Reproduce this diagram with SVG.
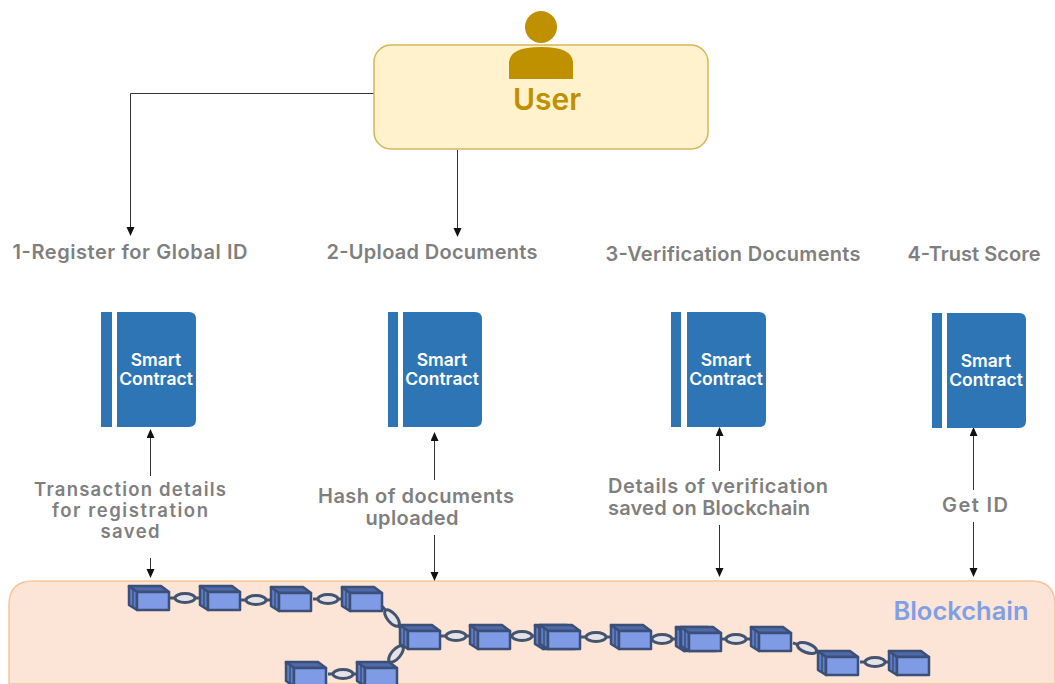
<svg xmlns="http://www.w3.org/2000/svg" width="1055" height="684" viewBox="0 0 1055 684">
<style>
text{font-family:"Inter","Open Sans",sans-serif;font-weight:600;text-anchor:middle}
.g{fill:#7f7f7f;font-size:20px}
.h{fill:#7f7f7f;font-size:20px}
.t{fill:#7f7f7f;font-size:18.500px}
.s{fill:#fff;font-size:17.500px;font-weight:600}
.c{fill:none;stroke:#333;stroke-width:1}
.book{fill:#2e75b6}
.lk{stroke:#44546f;stroke-width:3;fill:none}
.lf{stroke:#44546f;stroke-width:3;fill:#e4e4e8}
.b{stroke:#3b4f78;stroke-width:2.500;stroke-linejoin:round}
</style>
<defs>
<marker id="a" markerWidth="9" markerHeight="9" refX="8" refY="4" orient="auto-start-reverse" markerUnits="userSpaceOnUse"><path d="M0 0L9 4L0 8Z" fill="#111"/></marker>
<g id="blk">
<path class="b" d="M0 0H32L40 6H8L0 1Z" fill="#4f6aa8"/>
<path class="b" d="M0 0V19L8 24V6Z" fill="#5f7fc8"/>
<path d="M4 3V21" stroke="#3b4f78" stroke-width="1.500"/>
<rect class="b" x="8" y="6" width="32" height="18" fill="#7f9be6"/>
</g>
<g id="lnk"><path class="lk" d="M-15 0H-9M9 0H15"/><ellipse class="lf" rx="10" ry="4.500"/></g>
</defs>
<rect width="1055" height="684" fill="#fff"/>
<g id="blockchain-region"><path d="M9 684V605Q9 581 33 581H1031Q1055 581 1055 605V684Z" fill="#fce4d6" stroke="#f4c59a" stroke-width="1.500"/><text x="961" y="620" fill="#7f9fe6" style="font-size:25.500px">Blockchain</text></g>
<g id="connectors">
<path class="c" d="M374 93.500H130.500V235" marker-end="url(#a)"/>
<path class="c" d="M457.500 150V236" marker-end="url(#a)"/>
<path class="c" d="M150.500 476V430" marker-end="url(#a)"/>
<path class="c" d="M150.500 558V577" marker-end="url(#a)"/>
<path class="c" d="M434.500 480V433" marker-end="url(#a)"/>
<path class="c" d="M434.500 535V580" marker-end="url(#a)"/>
<path class="c" d="M719.500 471V428" marker-end="url(#a)"/>
<path class="c" d="M719.500 525V576" marker-end="url(#a)"/>
<path class="c" d="M973.500 490V428" marker-end="url(#a)"/>
<path class="c" d="M973.500 522V576" marker-end="url(#a)"/>
</g>
<g id="user">
<rect x="374" y="45" width="334" height="104" rx="17" fill="#fff2cc" stroke="#d6b656" stroke-width="1.500"/>
<circle cx="541" cy="27" r="16" fill="#bf9000"/>
<path d="M509 79V62Q510 47 541 47Q572 47 573 62V79Z" fill="#bf9000"/>
<text x="547" y="110" fill="#bf9000" style="font-size:30px">User</text>
</g>
<text class="g" x="130" y="259" textLength="235">1-Register for Global ID</text>
<text class="g" x="432" y="259" textLength="211">2-Upload Documents</text>
<text class="g" x="733" y="261" textLength="255">3-Verification Documents</text>
<text class="g" x="974" y="261" textLength="133">4-Trust Score</text>
<g id="sc1"><rect class="book" x="101" y="312" width="11" height="115"/><path class="book" d="M117 312H189Q196 312 196 319V420Q196 427 189 427H117Z"/><text class="s" x="156" y="366">Smart</text><text class="s" x="156" y="385">Contract</text></g>
<g id="sc2"><rect class="book" x="388" y="312" width="10" height="115"/><path class="book" d="M403 312H475Q482 312 482 319V420Q482 427 475 427H403Z"/><text class="s" x="442" y="366">Smart</text><text class="s" x="442" y="385">Contract</text></g>
<g id="sc3"><rect class="book" x="671" y="312" width="10" height="115"/><path class="book" d="M687 312H759Q766 312 766 319V420Q766 427 759 427H687Z"/><text class="s" x="726" y="366">Smart</text><text class="s" x="726" y="385">Contract</text></g>
<g id="sc4"><rect class="book" x="932" y="313" width="10" height="115"/><path class="book" d="M947 313H1019Q1026 313 1026 320V421Q1026 428 1019 428H947Z"/><text class="s" x="986" y="367">Smart</text><text class="s" x="986" y="386">Contract</text></g>
<text class="t" x="130" y="496" textLength="192">Transaction details</text><text class="t" x="130" y="517" textLength="156">for registration</text><text class="t" x="130" y="538" textLength="59">saved</text>
<text class="h" x="416" y="503" textLength="196">Hash of documents</text><text class="h" x="412" y="525" textLength="93">uploaded</text>
<text class="h" x="718" y="493" textLength="220">Details of verification</text><text class="h" x="709" y="515" textLength="202">saved on Blockchain</text>
<text class="h" x="975" y="512" textLength="66">Get ID</text>
<g id="chain">
<use href="#lnk" x="185" y="598"/><use href="#lnk" x="256" y="600"/><use href="#lnk" x="328" y="599"/>
<use href="#lnk" transform="translate(392 618) rotate(50)"/><use href="#lnk" transform="translate(396 654) rotate(-50)"/>
<use href="#lnk" x="456" y="636"/><use href="#lnk" x="522" y="636"/><use href="#lnk" x="596" y="637"/><use href="#lnk" x="662" y="639"/><use href="#lnk" x="736" y="639"/>
<use href="#lnk" transform="translate(807 648) rotate(20)"/><use href="#lnk" x="875" y="662"/><use href="#lnk" x="343" y="674"/>
<use href="#blk" x="129" y="586"/><use href="#blk" x="200" y="586"/><use href="#blk" x="271" y="587"/><use href="#blk" x="342" y="587"/>
<use href="#blk" x="400" y="625"/><use href="#blk" x="470" y="625"/><use href="#blk" x="535" y="625"/><use href="#blk" x="540" y="625"/><use href="#blk" x="611" y="625"/><use href="#blk" x="676" y="627"/><use href="#blk" x="681" y="627"/><use href="#blk" x="751" y="627"/><use href="#blk" x="818" y="651"/><use href="#blk" x="889" y="651"/>
<use href="#blk" x="286" y="662"/><use href="#blk" x="357" y="662"/>
</g>
</svg>
